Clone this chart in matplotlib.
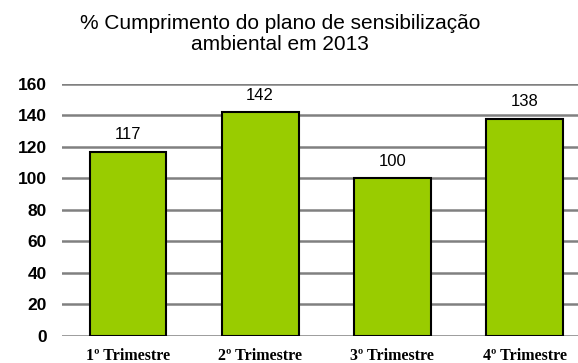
import numpy as np
import matplotlib.pyplot as plt

trimestres = ['1º Trimestre', '2º Trimestre', '3º Trimestre', '4º Trimestre']
cumprimento = [117, 142, 100, 138]
yticks = [0, 20, 40, 60, 80, 100, 120, 140, 160]

fig = plt.figure(figsize=(5.78, 3.63), dpi=100)
ax = fig.add_axes([0.107, 0.0744, 0.915, 0.6942])

x = np.arange(len(trimestres))
bars = ax.bar(x, cumprimento, width=0.58, color='#99CC00', edgecolor='black',
              linewidth=1.5, zorder=3)

for b, v in zip(bars, cumprimento):
    ax.annotate(str(v), (b.get_x() + b.get_width() / 2, v), xytext=(0, 7),
                textcoords='offset points', ha='center', va='bottom',
                fontsize=12, family='Liberation Sans', zorder=4)

ax.set_xlim(-0.5, len(trimestres) - 0.5)
ax.set_ylim(0, 160)
ax.set_yticks(yticks)
ax.set_yticklabels([str(t) for t in yticks], fontsize=12.5, fontweight='bold',
                   family='Liberation Sans')
ax.tick_params(axis='y', length=0, pad=11)
ax.set_xticks(x)
ax.set_xticklabels(trimestres, fontsize=11.5, fontweight='bold', family='Liberation Serif')
ax.tick_params(axis='x', length=0, pad=9)
ax.grid(axis='y', color='#808080', linewidth=1.8, zorder=0)
ax.set_axisbelow(True)
for s in ax.spines.values():
    s.set_visible(False)

fig.text(0.485, 0.962, '% Cumprimento do plano de sensibilização\nambiental em 2013',
         ha='center', va='top', fontsize=15, family='Liberation Sans', linespacing=1.12)

fig.savefig('out.png', dpi=100)
